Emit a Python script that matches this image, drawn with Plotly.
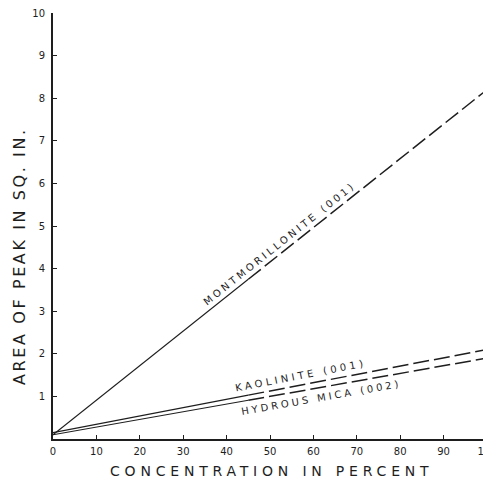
import plotly.graph_objects as go

concentration = [0, 45, 100]          # percent
montmorillonite = [0.1, 3.75, 8.2]    # area of peak, sq. in.
kaolinite = [0.15, 1.03, 2.1]
hydrous_mica = [0.1, 0.91, 1.9]
solid_end_index = 1                   # solid from first point to this point, dashed afterwards

x_ticks = [0, 10, 20, 30, 40, 50, 60, 70, 80, 90, 100]
y_ticks = [1, 2, 3, 4, 5, 6, 7, 8, 9, 10]

x_title = "CONCENTRATION IN PERCENT"
y_title = "AREA OF PEAK IN SQ. IN."

INK = "#1e1e1e"
FONT = "DejaVu Sans"

# page body has an 8px default margin, so the figure is sized to the visible area
W, H = 483, 471
ML, MR, MT, MB = 45, 4, 5, 40
PW, PH = W - ML - MR, H - MT - MB


def spaced(text, px):
    return f'<span style="letter-spacing:{px}px">{text}</span>'


fig = go.Figure()
for ys in (montmorillonite, kaolinite, hydrous_mica):
    k = solid_end_index
    fig.add_trace(go.Scatter(x=concentration[:k + 1], y=ys[:k + 1], mode="lines",
                             line=dict(color=INK, width=1.1), showlegend=False,
                             hoverinfo="skip", cliponaxis=False))
    fig.add_trace(go.Scatter(x=concentration[k:], y=ys[k:], mode="lines",
                             line=dict(color=INK, width=1.5, dash="16px,5px"),
                             showlegend=False, hoverinfo="skip", cliponaxis=False))

labels = [
    ("MONTMORILLONITE (001)", 52.2, 4.59, -38.5, 3.0),
    ("KAOLINITE (001)", 57.0, 1.49, -11, 3.4),
    ("HYDROUS MICA (002)", 61.8, 0.98, -10, 3.0),
]
for text, lx, ly, ang, sp in labels:
    fig.add_annotation(x=lx, y=ly, text=spaced(text, sp), showarrow=False, textangle=ang,
                       font=dict(family=FONT, size=10, color=INK))

# axis titles placed as paper-anchored texts (positions in figure pixels)
fig.add_annotation(xref="paper", yref="paper", x=(263 - ML) / PW, y=-(462.5 - (H - MB)) / PH,
                   text=spaced(x_title, 4.8), showarrow=False, xanchor="center", yanchor="middle",
                   borderpad=0, font=dict(family=FONT, size=14, color=INK))
fig.add_annotation(xref="paper", yref="paper", x=-(ML - 11) / PW, y=((H - MB) - 248) / PH,
                   text=spaced(y_title, 2.6), showarrow=False, textangle=-90,
                   xanchor="center", yanchor="middle", borderpad=0,
                   font=dict(family=FONT, size=16, color=INK))

fig.update_layout(
    width=W, height=H,
    margin=dict(l=ML, r=MR, t=MT, b=MB),
    paper_bgcolor="white", plot_bgcolor="white",
    xaxis=dict(range=[0, 100], tickvals=x_ticks, ticktext=[str(v) for v in x_ticks],
               showgrid=False, zeroline=False, showline=True, linecolor=INK, linewidth=2,
               ticks="inside", ticklen=4, tickcolor=INK, tickwidth=1.2,
               automargin=False, ticklabeloverflow="allow", ticklabelstandoff=2,
               tickfont=dict(family=FONT, size=10, color=INK)),
    yaxis=dict(range=[0, 10], tickvals=y_ticks, ticktext=[str(v) for v in y_ticks],
               showgrid=False, zeroline=False, showline=True, linecolor=INK, linewidth=2,
               ticks="inside", ticklen=4, tickcolor=INK, tickwidth=1.2,
               automargin=False, ticklabeloverflow="allow", ticklabelstandoff=4,
               tickfont=dict(family=FONT, size=10, color=INK)),
)

fig.write_html("out.html")
